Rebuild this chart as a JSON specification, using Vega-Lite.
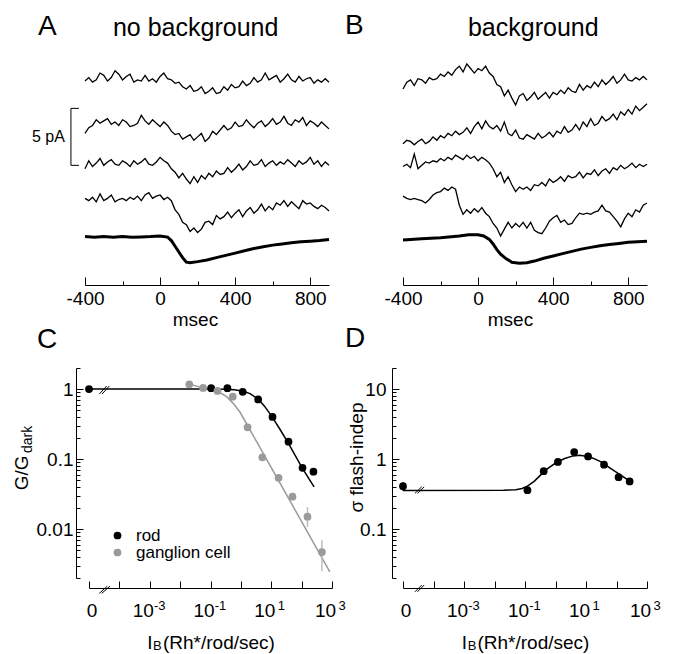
{
"$schema": "https://vega.github.io/schema/vega-lite/v6.json",
"padding": {"left": 12, "top": 11, "right": 0, "bottom": 0},
"config": {
 "view": {"stroke": null},
 "font": "Liberation Sans",
 "axis": {"grid": false, "domainColor": "black", "tickColor": "black", "labelColor": "black", "titleColor": "black", "labelFont": "Liberation Sans", "titleFont": "Liberation Sans", "labelFontSize": 19, "titleFontSize": 19, "titleFontWeight": "normal", "labelFlush": false, "labelOverlap": false, "labelBound": false, "domainWidth": 1, "tickWidth": 1},
 "text": {"font": "Liberation Sans", "color": "black"}
},
"datasets": {
 "tA": [
{"t":1,"ms":-400,"pA":17.9},{"t":1,"ms":-380,"pA":18.2},{"t":1,"ms":-360,"pA":17.8},{"t":1,"ms":-340,"pA":18.0},{"t":1,"ms":-320,"pA":18.6},{"t":1,"ms":-300,"pA":18.4},{"t":1,"ms":-280,"pA":17.9},{"t":1,"ms":-260,"pA":18.2},{"t":1,"ms":-240,"pA":18.8},{"t":1,"ms":-220,"pA":18.5},
{"t":1,"ms":-200,"pA":18.0},{"t":1,"ms":-180,"pA":18.3},{"t":1,"ms":-160,"pA":18.5},{"t":1,"ms":-140,"pA":17.8},{"t":1,"ms":-120,"pA":18.0},{"t":1,"ms":-100,"pA":17.9},{"t":1,"ms":-80,"pA":18.4},{"t":1,"ms":-60,"pA":17.9},{"t":1,"ms":-40,"pA":18.1},{"t":1,"ms":-20,"pA":17.8},
{"t":1,"ms":0,"pA":18.3},{"t":1,"ms":20,"pA":18.6},{"t":1,"ms":40,"pA":18.1},{"t":1,"ms":60,"pA":18.0},{"t":1,"ms":80,"pA":17.7},{"t":1,"ms":100,"pA":17.8},{"t":1,"ms":120,"pA":17.4},{"t":1,"ms":140,"pA":17.2},{"t":1,"ms":160,"pA":17.5},{"t":1,"ms":180,"pA":17.0},
{"t":1,"ms":200,"pA":17.1},{"t":1,"ms":220,"pA":17.4},{"t":1,"ms":240,"pA":16.8},{"t":1,"ms":260,"pA":17.0},{"t":1,"ms":280,"pA":17.3},{"t":1,"ms":300,"pA":16.8},{"t":1,"ms":320,"pA":16.9},{"t":1,"ms":340,"pA":17.4},{"t":1,"ms":360,"pA":17.1},{"t":1,"ms":380,"pA":17.6},
{"t":1,"ms":400,"pA":17.3},{"t":1,"ms":420,"pA":17.4},{"t":1,"ms":440,"pA":17.9},{"t":1,"ms":460,"pA":17.5},{"t":1,"ms":480,"pA":17.7},{"t":1,"ms":500,"pA":18.2},{"t":1,"ms":520,"pA":17.8},{"t":1,"ms":540,"pA":18.0},{"t":1,"ms":560,"pA":18.6},{"t":1,"ms":580,"pA":18.0},
{"t":1,"ms":600,"pA":18.2},{"t":1,"ms":620,"pA":18.4},{"t":1,"ms":640,"pA":17.8},{"t":1,"ms":660,"pA":18.1},{"t":1,"ms":680,"pA":18.5},{"t":1,"ms":700,"pA":18.0},{"t":1,"ms":720,"pA":17.8},{"t":1,"ms":740,"pA":18.3},{"t":1,"ms":760,"pA":17.9},{"t":1,"ms":780,"pA":18.1},
{"t":1,"ms":800,"pA":18.2},{"t":1,"ms":820,"pA":17.7},{"t":1,"ms":840,"pA":18.0},{"t":1,"ms":860,"pA":17.8},{"t":1,"ms":880,"pA":18.1},{"t":1,"ms":900,"pA":17.8},
{"t":2,"ms":-400,"pA":13.3},{"t":2,"ms":-380,"pA":13.8},{"t":2,"ms":-360,"pA":14.0},{"t":2,"ms":-340,"pA":14.5},{"t":2,"ms":-320,"pA":14.2},{"t":2,"ms":-300,"pA":14.4},{"t":2,"ms":-280,"pA":14.6},{"t":2,"ms":-260,"pA":14.1},{"t":2,"ms":-240,"pA":14.3},{"t":2,"ms":-220,"pA":14.0},
{"t":2,"ms":-200,"pA":14.5},{"t":2,"ms":-180,"pA":14.3},{"t":2,"ms":-160,"pA":13.9},{"t":2,"ms":-140,"pA":14.0},{"t":2,"ms":-120,"pA":14.2},{"t":2,"ms":-100,"pA":14.9},{"t":2,"ms":-80,"pA":14.4},{"t":2,"ms":-60,"pA":14.1},{"t":2,"ms":-40,"pA":14.5},{"t":2,"ms":-20,"pA":14.2},
{"t":2,"ms":0,"pA":13.9},{"t":2,"ms":20,"pA":14.3},{"t":2,"ms":40,"pA":14.0},{"t":2,"ms":60,"pA":13.5},{"t":2,"ms":80,"pA":13.2},{"t":2,"ms":100,"pA":13.3},{"t":2,"ms":120,"pA":12.8},{"t":2,"ms":140,"pA":13.0},{"t":2,"ms":160,"pA":13.2},{"t":2,"ms":180,"pA":12.7},
{"t":2,"ms":200,"pA":13.0},{"t":2,"ms":220,"pA":13.3},{"t":2,"ms":240,"pA":12.6},{"t":2,"ms":260,"pA":12.9},{"t":2,"ms":280,"pA":13.5},{"t":2,"ms":300,"pA":13.2},{"t":2,"ms":320,"pA":13.6},{"t":2,"ms":340,"pA":14.0},{"t":2,"ms":360,"pA":13.6},{"t":2,"ms":380,"pA":13.8},
{"t":2,"ms":400,"pA":14.3},{"t":2,"ms":420,"pA":13.9},{"t":2,"ms":440,"pA":14.0},{"t":2,"ms":460,"pA":14.5},{"t":2,"ms":480,"pA":14.1},{"t":2,"ms":500,"pA":13.8},{"t":2,"ms":520,"pA":14.2},{"t":2,"ms":540,"pA":14.4},{"t":2,"ms":560,"pA":13.9},{"t":2,"ms":580,"pA":14.2},
{"t":2,"ms":600,"pA":14.6},{"t":2,"ms":620,"pA":14.1},{"t":2,"ms":640,"pA":14.3},{"t":2,"ms":660,"pA":14.8},{"t":2,"ms":680,"pA":14.2},{"t":2,"ms":700,"pA":14.0},{"t":2,"ms":720,"pA":14.5},{"t":2,"ms":740,"pA":14.3},{"t":2,"ms":760,"pA":14.7},{"t":2,"ms":780,"pA":14.0},
{"t":2,"ms":800,"pA":14.4},{"t":2,"ms":820,"pA":14.2},{"t":2,"ms":840,"pA":13.9},{"t":2,"ms":860,"pA":14.3},{"t":2,"ms":880,"pA":14.0},{"t":2,"ms":900,"pA":13.7},
{"t":3,"ms":-400,"pA":10.2},{"t":3,"ms":-380,"pA":10.9},{"t":3,"ms":-360,"pA":10.4},{"t":3,"ms":-340,"pA":10.7},{"t":3,"ms":-320,"pA":11.1},{"t":3,"ms":-300,"pA":10.5},{"t":3,"ms":-280,"pA":10.8},{"t":3,"ms":-260,"pA":11.0},{"t":3,"ms":-240,"pA":10.6},{"t":3,"ms":-220,"pA":10.5},
{"t":3,"ms":-200,"pA":10.9},{"t":3,"ms":-180,"pA":10.7},{"t":3,"ms":-160,"pA":10.4},{"t":3,"ms":-140,"pA":10.9},{"t":3,"ms":-120,"pA":10.6},{"t":3,"ms":-100,"pA":10.8},{"t":3,"ms":-80,"pA":11.1},{"t":3,"ms":-60,"pA":10.6},{"t":3,"ms":-40,"pA":10.5},{"t":3,"ms":-20,"pA":10.8},
{"t":3,"ms":0,"pA":11.2},{"t":3,"ms":20,"pA":10.9},{"t":3,"ms":40,"pA":10.7},{"t":3,"ms":60,"pA":10.2},{"t":3,"ms":80,"pA":9.9},{"t":3,"ms":100,"pA":9.4},{"t":3,"ms":120,"pA":9.8},{"t":3,"ms":140,"pA":9.3},{"t":3,"ms":160,"pA":8.9},{"t":3,"ms":180,"pA":9.5},
{"t":3,"ms":200,"pA":9.0},{"t":3,"ms":220,"pA":9.6},{"t":3,"ms":240,"pA":9.3},{"t":3,"ms":260,"pA":9.8},{"t":3,"ms":280,"pA":9.5},{"t":3,"ms":300,"pA":10.0},{"t":3,"ms":320,"pA":9.7},{"t":3,"ms":340,"pA":9.8},{"t":3,"ms":360,"pA":10.3},{"t":3,"ms":380,"pA":9.9},
{"t":3,"ms":400,"pA":10.2},{"t":3,"ms":420,"pA":10.6},{"t":3,"ms":440,"pA":10.1},{"t":3,"ms":460,"pA":10.4},{"t":3,"ms":480,"pA":10.9},{"t":3,"ms":500,"pA":10.5},{"t":3,"ms":520,"pA":10.6},{"t":3,"ms":540,"pA":11.0},{"t":3,"ms":560,"pA":10.4},{"t":3,"ms":580,"pA":10.7},
{"t":3,"ms":600,"pA":10.9},{"t":3,"ms":620,"pA":10.5},{"t":3,"ms":640,"pA":10.8},{"t":3,"ms":660,"pA":10.6},{"t":3,"ms":680,"pA":11.0},{"t":3,"ms":700,"pA":10.7},{"t":3,"ms":720,"pA":10.4},{"t":3,"ms":740,"pA":10.9},{"t":3,"ms":760,"pA":10.6},{"t":3,"ms":780,"pA":10.8},
{"t":3,"ms":800,"pA":11.2},{"t":3,"ms":820,"pA":10.6},{"t":3,"ms":840,"pA":10.9},{"t":3,"ms":860,"pA":10.4},{"t":3,"ms":880,"pA":10.8},{"t":3,"ms":900,"pA":10.5},
{"t":4,"ms":-400,"pA":7.6},{"t":4,"ms":-380,"pA":7.4},{"t":4,"ms":-360,"pA":7.7},{"t":4,"ms":-340,"pA":7.3},{"t":4,"ms":-320,"pA":8.0},{"t":4,"ms":-300,"pA":7.4},{"t":4,"ms":-280,"pA":7.6},{"t":4,"ms":-260,"pA":7.9},{"t":4,"ms":-240,"pA":7.3},{"t":4,"ms":-220,"pA":7.5},
{"t":4,"ms":-200,"pA":7.6},{"t":4,"ms":-180,"pA":7.4},{"t":4,"ms":-160,"pA":7.7},{"t":4,"ms":-140,"pA":7.5},{"t":4,"ms":-120,"pA":7.8},{"t":4,"ms":-100,"pA":7.4},{"t":4,"ms":-80,"pA":7.9},{"t":4,"ms":-60,"pA":8.1},{"t":4,"ms":-40,"pA":7.6},{"t":4,"ms":-20,"pA":7.8},
{"t":4,"ms":0,"pA":7.9},{"t":4,"ms":20,"pA":7.5},{"t":4,"ms":40,"pA":7.7},{"t":4,"ms":60,"pA":7.4},{"t":4,"ms":80,"pA":6.6},{"t":4,"ms":100,"pA":6.2},{"t":4,"ms":120,"pA":5.5},{"t":4,"ms":140,"pA":5.3},{"t":4,"ms":160,"pA":4.7},{"t":4,"ms":180,"pA":5.0},
{"t":4,"ms":200,"pA":4.6},{"t":4,"ms":220,"pA":4.9},{"t":4,"ms":240,"pA":5.5},{"t":4,"ms":260,"pA":5.6},{"t":4,"ms":280,"pA":5.3},{"t":4,"ms":300,"pA":6.1},{"t":4,"ms":320,"pA":5.8},{"t":4,"ms":340,"pA":6.0},{"t":4,"ms":360,"pA":6.4},{"t":4,"ms":380,"pA":5.9},
{"t":4,"ms":400,"pA":6.3},{"t":4,"ms":420,"pA":6.6},{"t":4,"ms":440,"pA":6.0},{"t":4,"ms":460,"pA":6.5},{"t":4,"ms":480,"pA":6.8},{"t":4,"ms":500,"pA":6.3},{"t":4,"ms":520,"pA":6.6},{"t":4,"ms":540,"pA":7.1},{"t":4,"ms":560,"pA":6.5},{"t":4,"ms":580,"pA":6.9},
{"t":4,"ms":600,"pA":6.6},{"t":4,"ms":620,"pA":7.2},{"t":4,"ms":640,"pA":7.0},{"t":4,"ms":660,"pA":7.4},{"t":4,"ms":680,"pA":6.9},{"t":4,"ms":700,"pA":7.3},{"t":4,"ms":720,"pA":7.0},{"t":4,"ms":740,"pA":6.7},{"t":4,"ms":760,"pA":7.4},{"t":4,"ms":780,"pA":7.1},
{"t":4,"ms":800,"pA":7.2},{"t":4,"ms":820,"pA":6.9},{"t":4,"ms":840,"pA":6.7},{"t":4,"ms":860,"pA":7.0},{"t":4,"ms":880,"pA":6.8},{"t":4,"ms":900,"pA":6.5}
 ],
 "mA": [
{"ms":-400,"pA":4.25},{"ms":-350,"pA":4.2},{"ms":-300,"pA":4.25},{"ms":-250,"pA":4.2},{"ms":-200,"pA":4.25},{"ms":-150,"pA":4.2},{"ms":-100,"pA":4.22},{"ms":-50,"pA":4.25},{"ms":0,"pA":4.3},{"ms":40,"pA":4.2},{"ms":60,"pA":3.9},{"ms":80,"pA":3.4},{"ms":100,"pA":2.9},{"ms":120,"pA":2.4},{"ms":140,"pA":2.0},{"ms":160,"pA":1.95},{"ms":200,"pA":2.05},{"ms":250,"pA":2.2},{"ms":300,"pA":2.4},{"ms":350,"pA":2.6},{"ms":400,"pA":2.8},{"ms":450,"pA":3.0},{"ms":500,"pA":3.2},{"ms":550,"pA":3.35},{"ms":600,"pA":3.5},{"ms":650,"pA":3.6},{"ms":700,"pA":3.7},{"ms":750,"pA":3.8},{"ms":800,"pA":3.85},{"ms":850,"pA":3.9},{"ms":900,"pA":4.0}
 ],
 "tB": [
{"t":1,"ms":-400,"pA":17.2},{"t":1,"ms":-380,"pA":17.8},{"t":1,"ms":-360,"pA":18.0},{"t":1,"ms":-340,"pA":17.5},{"t":1,"ms":-320,"pA":18.1},{"t":1,"ms":-300,"pA":18.0},{"t":1,"ms":-280,"pA":17.7},{"t":1,"ms":-260,"pA":18.2},{"t":1,"ms":-240,"pA":18.0},{"t":1,"ms":-220,"pA":18.1},
{"t":1,"ms":-200,"pA":18.5},{"t":1,"ms":-180,"pA":18.3},{"t":1,"ms":-160,"pA":18.7},{"t":1,"ms":-140,"pA":18.4},{"t":1,"ms":-120,"pA":18.9},{"t":1,"ms":-100,"pA":19.2},{"t":1,"ms":-80,"pA":18.7},{"t":1,"ms":-60,"pA":19.4},{"t":1,"ms":-40,"pA":19.0},{"t":1,"ms":-20,"pA":18.6},
{"t":1,"ms":0,"pA":19.0},{"t":1,"ms":20,"pA":18.8},{"t":1,"ms":40,"pA":19.2},{"t":1,"ms":60,"pA":18.6},{"t":1,"ms":80,"pA":18.3},{"t":1,"ms":100,"pA":17.6},{"t":1,"ms":120,"pA":17.4},{"t":1,"ms":140,"pA":16.6},{"t":1,"ms":160,"pA":17.1},{"t":1,"ms":180,"pA":16.4},
{"t":1,"ms":200,"pA":15.8},{"t":1,"ms":220,"pA":16.6},{"t":1,"ms":240,"pA":16.8},{"t":1,"ms":260,"pA":16.2},{"t":1,"ms":280,"pA":16.5},{"t":1,"ms":300,"pA":16.9},{"t":1,"ms":320,"pA":16.3},{"t":1,"ms":340,"pA":16.6},{"t":1,"ms":360,"pA":16.9},{"t":1,"ms":380,"pA":16.4},
{"t":1,"ms":400,"pA":16.9},{"t":1,"ms":420,"pA":16.7},{"t":1,"ms":440,"pA":17.1},{"t":1,"ms":460,"pA":16.8},{"t":1,"ms":480,"pA":17.3},{"t":1,"ms":500,"pA":17.0},{"t":1,"ms":520,"pA":16.9},{"t":1,"ms":540,"pA":17.6},{"t":1,"ms":560,"pA":17.1},{"t":1,"ms":580,"pA":17.5},
{"t":1,"ms":600,"pA":17.3},{"t":1,"ms":620,"pA":17.8},{"t":1,"ms":640,"pA":17.4},{"t":1,"ms":660,"pA":18.0},{"t":1,"ms":680,"pA":17.6},{"t":1,"ms":700,"pA":17.9},{"t":1,"ms":720,"pA":18.3},{"t":1,"ms":740,"pA":17.7},{"t":1,"ms":760,"pA":18.0},{"t":1,"ms":780,"pA":18.5},
{"t":1,"ms":800,"pA":18.0},{"t":1,"ms":820,"pA":17.9},{"t":1,"ms":840,"pA":18.2},{"t":1,"ms":860,"pA":18.0},{"t":1,"ms":880,"pA":18.3},{"t":1,"ms":900,"pA":18.0},
{"t":2,"ms":-400,"pA":12.4},{"t":2,"ms":-380,"pA":12.7},{"t":2,"ms":-360,"pA":12.6},{"t":2,"ms":-340,"pA":12.3},{"t":2,"ms":-320,"pA":12.6},{"t":2,"ms":-300,"pA":12.8},{"t":2,"ms":-280,"pA":12.4},{"t":2,"ms":-260,"pA":12.6},{"t":2,"ms":-240,"pA":13.0},{"t":2,"ms":-220,"pA":12.7},
{"t":2,"ms":-200,"pA":13.1},{"t":2,"ms":-180,"pA":12.9},{"t":2,"ms":-160,"pA":13.3},{"t":2,"ms":-140,"pA":13.1},{"t":2,"ms":-120,"pA":13.5},{"t":2,"ms":-100,"pA":13.2},{"t":2,"ms":-80,"pA":13.4},{"t":2,"ms":-60,"pA":13.8},{"t":2,"ms":-40,"pA":13.3},{"t":2,"ms":-20,"pA":13.9},
{"t":2,"ms":0,"pA":14.3},{"t":2,"ms":20,"pA":13.7},{"t":2,"ms":40,"pA":14.4},{"t":2,"ms":60,"pA":13.9},{"t":2,"ms":80,"pA":13.7},{"t":2,"ms":100,"pA":14.0},{"t":2,"ms":120,"pA":13.5},{"t":2,"ms":140,"pA":14.3},{"t":2,"ms":160,"pA":13.3},{"t":2,"ms":180,"pA":13.1},
{"t":2,"ms":200,"pA":13.6},{"t":2,"ms":220,"pA":12.9},{"t":2,"ms":240,"pA":12.8},{"t":2,"ms":260,"pA":13.2},{"t":2,"ms":280,"pA":13.0},{"t":2,"ms":300,"pA":12.8},{"t":2,"ms":320,"pA":13.3},{"t":2,"ms":340,"pA":12.9},{"t":2,"ms":360,"pA":13.1},{"t":2,"ms":380,"pA":13.4},
{"t":2,"ms":400,"pA":13.0},{"t":2,"ms":420,"pA":13.5},{"t":2,"ms":440,"pA":13.3},{"t":2,"ms":460,"pA":13.9},{"t":2,"ms":480,"pA":13.4},{"t":2,"ms":500,"pA":13.6},{"t":2,"ms":520,"pA":14.1},{"t":2,"ms":540,"pA":13.6},{"t":2,"ms":560,"pA":14.3},{"t":2,"ms":580,"pA":13.9},
{"t":2,"ms":600,"pA":14.6},{"t":2,"ms":620,"pA":14.0},{"t":2,"ms":640,"pA":14.2},{"t":2,"ms":660,"pA":14.8},{"t":2,"ms":680,"pA":14.4},{"t":2,"ms":700,"pA":14.6},{"t":2,"ms":720,"pA":15.0},{"t":2,"ms":740,"pA":14.5},{"t":2,"ms":760,"pA":15.2},{"t":2,"ms":780,"pA":14.9},
{"t":2,"ms":800,"pA":15.4},{"t":2,"ms":820,"pA":15.0},{"t":2,"ms":840,"pA":15.7},{"t":2,"ms":860,"pA":15.3},{"t":2,"ms":880,"pA":15.6},{"t":2,"ms":900,"pA":15.9},
{"t":3,"ms":-400,"pA":10.4},{"t":3,"ms":-380,"pA":10.6},{"t":3,"ms":-360,"pA":10.3},{"t":3,"ms":-340,"pA":11.5},{"t":3,"ms":-320,"pA":10.2},{"t":3,"ms":-300,"pA":10.5},{"t":3,"ms":-280,"pA":10.8},{"t":3,"ms":-260,"pA":10.7},{"t":3,"ms":-240,"pA":10.9},{"t":3,"ms":-220,"pA":10.8},
{"t":3,"ms":-200,"pA":11.1},{"t":3,"ms":-180,"pA":10.9},{"t":3,"ms":-160,"pA":11.2},{"t":3,"ms":-140,"pA":11.0},{"t":3,"ms":-120,"pA":11.4},{"t":3,"ms":-100,"pA":11.2},{"t":3,"ms":-80,"pA":11.0},{"t":3,"ms":-60,"pA":11.4},{"t":3,"ms":-40,"pA":11.1},{"t":3,"ms":-20,"pA":11.3},
{"t":3,"ms":0,"pA":10.9},{"t":3,"ms":20,"pA":11.2},{"t":3,"ms":40,"pA":11.0},{"t":3,"ms":60,"pA":10.7},{"t":3,"ms":80,"pA":10.2},{"t":3,"ms":100,"pA":9.5},{"t":3,"ms":120,"pA":9.9},{"t":3,"ms":140,"pA":9.0},{"t":3,"ms":160,"pA":9.5},{"t":3,"ms":180,"pA":8.8},
{"t":3,"ms":200,"pA":8.2},{"t":3,"ms":220,"pA":8.6},{"t":3,"ms":240,"pA":8.4},{"t":3,"ms":260,"pA":8.6},{"t":3,"ms":280,"pA":8.3},{"t":3,"ms":300,"pA":8.8},{"t":3,"ms":320,"pA":8.7},{"t":3,"ms":340,"pA":9.0},{"t":3,"ms":360,"pA":8.7},{"t":3,"ms":380,"pA":9.3},
{"t":3,"ms":400,"pA":9.0},{"t":3,"ms":420,"pA":9.2},{"t":3,"ms":440,"pA":9.5},{"t":3,"ms":460,"pA":9.1},{"t":3,"ms":480,"pA":9.6},{"t":3,"ms":500,"pA":9.4},{"t":3,"ms":520,"pA":9.5},{"t":3,"ms":540,"pA":9.9},{"t":3,"ms":560,"pA":9.4},{"t":3,"ms":580,"pA":9.8},
{"t":3,"ms":600,"pA":9.7},{"t":3,"ms":620,"pA":10.1},{"t":3,"ms":640,"pA":9.6},{"t":3,"ms":660,"pA":10.0},{"t":3,"ms":680,"pA":10.2},{"t":3,"ms":700,"pA":9.8},{"t":3,"ms":720,"pA":10.3},{"t":3,"ms":740,"pA":10.1},{"t":3,"ms":760,"pA":10.5},{"t":3,"ms":780,"pA":10.2},
{"t":3,"ms":800,"pA":10.4},{"t":3,"ms":820,"pA":10.7},{"t":3,"ms":840,"pA":10.3},{"t":3,"ms":860,"pA":10.6},{"t":3,"ms":880,"pA":10.4},{"t":3,"ms":900,"pA":10.6},
{"t":4,"ms":-400,"pA":7.8},{"t":4,"ms":-380,"pA":7.6},{"t":4,"ms":-360,"pA":7.5},{"t":4,"ms":-340,"pA":7.6},{"t":4,"ms":-320,"pA":7.5},{"t":4,"ms":-300,"pA":7.4},{"t":4,"ms":-280,"pA":7.2},{"t":4,"ms":-260,"pA":7.5},{"t":4,"ms":-240,"pA":7.9},{"t":4,"ms":-220,"pA":8.1},
{"t":4,"ms":-200,"pA":8.2},{"t":4,"ms":-180,"pA":8.5},{"t":4,"ms":-160,"pA":8.3},{"t":4,"ms":-140,"pA":8.6},{"t":4,"ms":-120,"pA":8.4},{"t":4,"ms":-100,"pA":7.0},{"t":4,"ms":-80,"pA":6.2},{"t":4,"ms":-60,"pA":6.6},{"t":4,"ms":-40,"pA":6.3},{"t":4,"ms":-20,"pA":6.7},
{"t":4,"ms":0,"pA":6.4},{"t":4,"ms":20,"pA":6.8},{"t":4,"ms":40,"pA":6.3},{"t":4,"ms":60,"pA":6.0},{"t":4,"ms":80,"pA":5.4},{"t":4,"ms":100,"pA":5.0},{"t":4,"ms":120,"pA":4.3},{"t":4,"ms":140,"pA":4.9},{"t":4,"ms":160,"pA":5.5},{"t":4,"ms":180,"pA":5.0},
{"t":4,"ms":200,"pA":5.4},{"t":4,"ms":220,"pA":5.1},{"t":4,"ms":240,"pA":5.5},{"t":4,"ms":260,"pA":5.0},{"t":4,"ms":280,"pA":5.5},{"t":4,"ms":300,"pA":4.8},{"t":4,"ms":320,"pA":4.6},{"t":4,"ms":340,"pA":4.5},{"t":4,"ms":360,"pA":5.0},{"t":4,"ms":380,"pA":5.6},
{"t":4,"ms":400,"pA":5.9},{"t":4,"ms":420,"pA":6.1},{"t":4,"ms":440,"pA":5.5},{"t":4,"ms":460,"pA":5.7},{"t":4,"ms":480,"pA":5.3},{"t":4,"ms":500,"pA":5.4},{"t":4,"ms":520,"pA":5.9},{"t":4,"ms":540,"pA":6.3},{"t":4,"ms":560,"pA":6.2},{"t":4,"ms":580,"pA":6.3},
{"t":4,"ms":600,"pA":6.2},{"t":4,"ms":620,"pA":6.4},{"t":4,"ms":640,"pA":6.5},{"t":4,"ms":660,"pA":7.0},{"t":4,"ms":680,"pA":6.5},{"t":4,"ms":700,"pA":6.4},{"t":4,"ms":720,"pA":6.0},{"t":4,"ms":740,"pA":5.6},{"t":4,"ms":760,"pA":5.1},{"t":4,"ms":780,"pA":5.8},
{"t":4,"ms":800,"pA":6.3},{"t":4,"ms":820,"pA":6.0},{"t":4,"ms":840,"pA":6.6},{"t":4,"ms":860,"pA":6.4},{"t":4,"ms":880,"pA":7.0},{"t":4,"ms":900,"pA":7.2}
 ],
 "mB": [
{"ms":-400,"pA":3.95},{"ms":-300,"pA":4.05},{"ms":-200,"pA":4.15},{"ms":-100,"pA":4.3},{"ms":-50,"pA":4.4},{"ms":0,"pA":4.4},{"ms":30,"pA":4.3},{"ms":60,"pA":4.0},{"ms":80,"pA":3.6},{"ms":100,"pA":3.1},{"ms":120,"pA":2.7},{"ms":150,"pA":2.3},{"ms":180,"pA":2.0},{"ms":220,"pA":1.9},{"ms":260,"pA":1.95},{"ms":300,"pA":2.1},{"ms":350,"pA":2.35},{"ms":400,"pA":2.55},{"ms":450,"pA":2.75},{"ms":500,"pA":2.95},{"ms":550,"pA":3.15},{"ms":600,"pA":3.3},{"ms":650,"pA":3.45},{"ms":700,"pA":3.55},{"ms":750,"pA":3.65},{"ms":800,"pA":3.75},{"ms":850,"pA":3.8},{"ms":900,"pA":3.85}
 ],
 "cPts": [
{"cell":"rod","I":0.00001,"G":1.0},{"cell":"rod","I":0.105,"G":1.03},{"cell":"rod","I":0.36,"G":1.03},{"cell":"rod","I":1.15,"G":0.915},{"cell":"rod","I":3.7,"G":0.71},{"cell":"rod","I":11,"G":0.40},{"cell":"rod","I":37,"G":0.177},{"cell":"rod","I":107,"G":0.075},{"cell":"rod","I":245,"G":0.066},
{"cell":"ganglion cell","I":0.02,"G":1.17},{"cell":"ganglion cell","I":0.057,"G":1.04},{"cell":"ganglion cell","I":0.17,"G":0.94},{"cell":"ganglion cell","I":0.54,"G":0.78},{"cell":"ganglion cell","I":1.66,"G":0.284},{"cell":"ganglion cell","I":5.1,"G":0.106},{"cell":"ganglion cell","I":17.4,"G":0.054},{"cell":"ganglion cell","I":50,"G":0.029},{"cell":"ganglion cell","I":156,"G":0.015,"lo":0.0107,"hi":0.0206},{"cell":"ganglion cell","I":465,"G":0.0047,"lo":0.0025,"hi":0.0069}
 ],
 "cFit": [
{"cell":"rod","I":0.00001,"G":1.0},{"cell":"rod","I":0.09,"G":1.0},{"cell":"rod","I":0.3,"G":0.995},{"cell":"rod","I":0.6,"G":0.98},{"cell":"rod","I":1.12,"G":0.94},{"cell":"rod","I":2,"G":0.86},{"cell":"rod","I":3.7,"G":0.72},{"cell":"rod","I":6,"G":0.57},{"cell":"rod","I":10.7,"G":0.40},{"cell":"rod","I":20,"G":0.26},{"cell":"rod","I":36,"G":0.17},{"cell":"rod","I":60,"G":0.115},{"cell":"rod","I":105,"G":0.074},{"cell":"rod","I":257,"G":0.04},
{"cell":"ganglion cell","I":0.02,"G":1.17},{"cell":"ganglion cell","I":0.057,"G":1.04},{"cell":"ganglion cell","I":0.16,"G":0.945},{"cell":"ganglion cell","I":0.34,"G":0.78},{"cell":"ganglion cell","I":0.55,"G":0.63},{"cell":"ganglion cell","I":0.93,"G":0.47},{"cell":"ganglion cell","I":10,"G":0.0757},{"cell":"ganglion cell","I":100,"G":0.0128},{"cell":"ganglion cell","I":850,"G":0.00245}
 ],
 "dPts": [
{"I":0.00001,"s":0.41,"lo":0.35,"hi":0.47},{"I":0.12,"s":0.36,"lo":0.32,"hi":0.40},{"I":0.41,"s":0.67,"lo":0.62,"hi":0.72},{"I":1.2,"s":0.91},{"I":4.1,"s":1.26},{"I":11.7,"s":1.09},{"I":39,"s":0.83},{"I":117,"s":0.55,"lo":0.50,"hi":0.61},{"I":270,"s":0.48}
 ],
 "dFit": [
{"I":0.00001,"s":0.356},{"I":0.02,"s":0.358},{"I":0.05,"s":0.365},{"I":0.08,"s":0.38},{"I":0.12,"s":0.41},{"I":0.2,"s":0.48},{"I":0.31,"s":0.58},{"I":0.55,"s":0.73},{"I":1.1,"s":0.9},{"I":2,"s":1.02},{"I":3.8,"s":1.11},{"I":6.3,"s":1.13},{"I":10,"s":1.1},{"I":17,"s":1.03},{"I":30,"s":0.92},{"I":48,"s":0.80},{"I":80,"s":0.69},{"I":130,"s":0.60},{"I":200,"s":0.53},{"I":275,"s":0.48}
 ]
},
"columns": 2,
"spacing": {"row": 83, "column": 71},
"bounds": "flush",
"concat": [
  {"width": 244, "height": 245,
   "layer": [
    {"data": {"name": "tA"}, "mark": {"type": "line", "color": "black", "strokeWidth": 1.3},
     "encoding": {
      "x": {"field": "ms", "type": "quantitative", "scale": {"domain": [-400, 900], "nice": false, "zero": false},
        "axis": {"title": "msec", "values": [-400,-200,0,200,400,600,800], "labelExpr": "datum.value % 400 === 0 ? '' + datum.value : ''", "tickSize": {"condition": {"test": "datum.value % 400 === 0", "value": -8}, "value": -4}, "labelPadding": 12.5, "titleX": 110, "titleY": 40, "titleBaseline": "alphabetic", "titleAlign": "center"}},
      "y": {"field": "pA", "type": "quantitative", "scale": {"domain": [0, 21.5], "nice": false, "zero": false}, "axis": null},
      "detail": {"field": "t"}}},
    {"data": {"name": "mA"}, "mark": {"type": "line", "color": "black", "strokeWidth": 3},
     "encoding": {"x": {"field": "ms", "type": "quantitative"}, "y": {"field": "pA", "type": "quantitative"}}},
    {"data": {"values": [{}]}, "mark": {"type": "rule", "color": "black", "strokeWidth": 1},
     "encoding": {"x": {"datum": -475}, "y": {"datum": 10.5}, "y2": {"datum": 15.5}}},
    {"data": {"values": [{}]}, "mark": {"type": "rule", "color": "black", "strokeWidth": 1},
     "encoding": {"x": {"datum": -475}, "x2": {"datum": -432}, "y": {"datum": 15.5}}},
    {"data": {"values": [{}]}, "mark": {"type": "rule", "color": "black", "strokeWidth": 1},
     "encoding": {"x": {"datum": -475}, "x2": {"datum": -432}, "y": {"datum": 10.5}}},
    {"data": {"values": [{}]}, "mark": {"type": "text", "text": "5 pA", "fontSize": 16, "align": "right", "baseline": "middle"},
     "encoding": {"x": {"datum": -507}, "y": {"datum": 12.98}}},
    {"data": {"values": [{}]}, "mark": {"type": "text", "text": "A", "fontSize": 28, "align": "left", "baseline": "alphabetic"},
     "encoding": {"x": {"datum": -650}, "y": {"datum": 21.93}}},
    {"data": {"values": [{}]}, "mark": {"type": "text", "text": "no background", "fontSize": 25, "align": "left", "baseline": "alphabetic"},
     "encoding": {"x": {"datum": -251}, "y": {"datum": 21.84}}}
   ]},
  {"width": 244, "height": 245,
   "layer": [
    {"data": {"name": "tB"}, "mark": {"type": "line", "color": "black", "strokeWidth": 1.3},
     "encoding": {
      "x": {"field": "ms", "type": "quantitative", "scale": {"domain": [-400, 900], "nice": false, "zero": false},
        "axis": {"title": "msec", "values": [-400,-200,0,200,400,600,800], "labelExpr": "datum.value % 400 === 0 ? '' + datum.value : ''", "tickSize": {"condition": {"test": "datum.value % 400 === 0", "value": -8}, "value": -4}, "labelPadding": 12.5, "titleX": 107, "titleY": 40, "titleBaseline": "alphabetic", "titleAlign": "center"}},
      "y": {"field": "pA", "type": "quantitative", "scale": {"domain": [0, 21.5], "nice": false, "zero": false}, "axis": null},
      "detail": {"field": "t"}}},
    {"data": {"name": "mB"}, "mark": {"type": "line", "color": "black", "strokeWidth": 3},
     "encoding": {"x": {"field": "ms", "type": "quantitative"}, "y": {"field": "pA", "type": "quantitative"}}},
    {"data": {"values": [{}]}, "mark": {"type": "text", "text": "B", "fontSize": 28, "align": "left", "baseline": "alphabetic"},
     "encoding": {"x": {"datum": -709}, "y": {"datum": 22.06}}},
    {"data": {"values": [{}]}, "mark": {"type": "text", "text": "background", "fontSize": 25, "align": "left", "baseline": "alphabetic"},
     "encoding": {"x": {"datum": -54}, "y": {"datum": 21.84}}}
   ]},
  {"width": 247, "height": 210,
   "resolve": {"axis": {"x": "independent", "y": "independent"}},
   "layer": [
    {"layer": [
     {"data": {"name": "cFit"}, "transform": [{"filter": "datum.cell == 'rod'"}], "mark": {"type": "line", "color": "black", "strokeWidth": 1.5},
      "encoding": {
       "x": {"field": "I", "type": "quantitative", "scale": {"type": "log", "domain": [0.00001, 1000], "range": [4, 247], "nice": false},
         "axis": {"orient": "bottom", "offset": 10, "values": [0.00001,0.0001,0.001,0.01,0.1,1,10,100,1000], "labelExpr": "datum.value < 2e-5 ? '0' : (abs(round(log(datum.value)/LN10)) % 2 == 1 ? '10' : '')", "labelOffset": {"condition": {"test": "datum.value < 2e-5", "value": 2.5}, "value": -7}, "tickSize": -7, "labelPadding": 20.5, "title": "I\u00a0\u00a0(Rh*/rod/sec)", "titleY": 60, "titleBaseline": "alphabetic"}},
       "y": {"field": "G", "type": "quantitative", "scale": {"type": "log", "domain": [0.002, 2], "nice": false},
         "axis": {"orient": "left", "offset": 9, "values": [0.002,0.003,0.004,0.005,0.006,0.007,0.008,0.009,0.01,0.02,0.03,0.04,0.05,0.06,0.07,0.08,0.09,0.1,0.2,0.3,0.4,0.5,0.6,0.7,0.8,0.9,1,2], "labelExpr": "datum.value == 1 ? '1' : datum.value == 0.1 ? '0.1' : datum.value == 0.01 ? '0.01' : ''", "tickSize": {"condition": {"test": "datum.value == 1 || datum.value == 0.1 || datum.value == 0.01", "value": -7}, "value": -4}, "labelPadding": 10, "title": "G/G", "titleX": -49, "titleY": 87, "titleAngle": 270, "titleAlign": "right", "titleBaseline": "alphabetic"}}}},
     {"data": {"name": "cFit"}, "transform": [{"filter": "datum.cell == 'ganglion cell'"}], "mark": {"type": "line", "color": "#9a9a9a", "strokeWidth": 1.5},
      "encoding": {"x": {"field": "I", "type": "quantitative"}, "y": {"field": "G", "type": "quantitative"}}},
     {"data": {"name": "cPts"}, "transform": [{"filter": "isValid(datum.lo)"}], "mark": {"type": "rule", "color": "#bdbdbd", "strokeWidth": 1.5},
      "encoding": {"x": {"field": "I", "type": "quantitative"}, "y": {"field": "lo", "type": "quantitative"}, "y2": {"field": "hi"}}},
     {"data": {"name": "cPts"}, "mark": {"type": "point", "filled": true, "size": 60, "opacity": 1},
      "encoding": {"x": {"field": "I", "type": "quantitative"}, "y": {"field": "G", "type": "quantitative"},
       "color": {"field": "cell", "type": "nominal", "scale": {"domain": ["rod", "ganglion cell"], "range": ["black", "#9a9a9a"]},
         "legend": {"orient": "none", "legendX": 24, "legendY": 487, "title": null, "labelFontSize": 17, "labelFont": "Liberation Sans", "labelColor": "black", "symbolType": "circle", "symbolSize": 60, "symbolStrokeWidth": 0, "labelOffset": 10, "rowPadding": -3, "padding": 0}}}},
     {"data": {"values": [{}]}, "mark": {"type": "rule", "color": "black", "strokeWidth": 1}, "encoding": {"x": {"datum": 2.18e-5}, "x2": {"datum": 4.0e-5}, "y": {"datum": 0.001205}, "y2": {"datum": 0.00153}}},
     {"data": {"values": [{}]}, "mark": {"type": "rule", "color": "black", "strokeWidth": 1}, "encoding": {"x": {"datum": 2.62e-5}, "x2": {"datum": 4.91e-5}, "y": {"datum": 0.001205}, "y2": {"datum": 0.00153}}},
     {"data": {"values": [{}]}, "mark": {"type": "rule", "color": "black", "strokeWidth": 1}, "encoding": {"x": {"datum": 2.18e-5}, "x2": {"datum": 3.82e-5}, "y": {"datum": 0.848}, "y2": {"datum": 1.104}}},
     {"data": {"values": [{}]}, "mark": {"type": "rule", "color": "black", "strokeWidth": 1}, "encoding": {"x": {"datum": 2.68e-5}, "x2": {"datum": 4.66e-5}, "y": {"datum": 0.848}, "y2": {"datum": 1.104}}},
     {"data": {"values": [{}]}, "mark": {"type": "text", "text": "dark", "fontSize": 14, "angle": 270, "align": "left", "baseline": "alphabetic"}, "encoding": {"x": {"datum": 1.3e-7}, "y": {"datum": 0.122}}},
     {"data": {"values": [{}]}, "mark": {"type": "text", "text": "B", "fontSize": 13, "align": "left", "baseline": "alphabetic"}, "encoding": {"x": {"datum": 0.00128}, "y": {"datum": 0.000187}}},
     {"data": {"values": [{}]}, "mark": {"type": "text", "text": "C", "fontSize": 28, "align": "left", "baseline": "alphabetic"}, "encoding": {"x": {"datum": 1.94e-7}, "y": {"datum": 3.85}}}
    ]},
    {"data": {"name": "cPts"}, "mark": {"type": "point", "opacity": 0},
     "encoding": {
      "x": {"field": "I", "type": "quantitative", "axis": {"orient": "bottom", "offset": 10, "values": [0.001, 0.1, 10, 1000], "labelExpr": "'' + round(log(datum.value)/LN10)", "domain": false, "ticks": false, "tickSize": 0, "labelFontSize": 13, "labelOffset": 9.5, "labelPadding": 11, "title": null}},
      "y": {"field": "G", "type": "quantitative", "axis": null}}}
   ]},
  {"width": 244, "height": 210,
   "resolve": {"axis": {"x": "independent", "y": "independent"}},
   "layer": [
    {"layer": [
     {"data": {"name": "dFit"}, "mark": {"type": "line", "color": "black", "strokeWidth": 1.5},
      "encoding": {
       "x": {"field": "I", "type": "quantitative", "scale": {"type": "log", "domain": [0.00001, 1000], "nice": false},
         "axis": {"orient": "bottom", "offset": 10, "values": [0.00001,0.0001,0.001,0.01,0.1,1,10,100,1000], "labelExpr": "datum.value < 2e-5 ? '0' : (abs(round(log(datum.value)/LN10)) % 2 == 1 ? '10' : '')", "labelOffset": {"condition": {"test": "datum.value < 2e-5", "value": 2.5}, "value": -7}, "tickSize": -7, "labelPadding": 20.5, "title": "I\u00a0\u00a0(Rh*/rod/sec)", "titleY": 60, "titleBaseline": "alphabetic"}},
       "y": {"field": "s", "type": "quantitative", "scale": {"type": "log", "domain": [0.02, 20], "nice": false},
         "axis": {"orient": "left", "offset": 11, "values": [0.02,0.03,0.04,0.05,0.06,0.07,0.08,0.09,0.1,0.2,0.3,0.4,0.5,0.6,0.7,0.8,0.9,1,2,3,4,5,6,7,8,9,10,20], "labelExpr": "datum.value == 10 ? '10' : datum.value == 1 ? '1' : datum.value == 0.1 ? '0.1' : ''", "tickSize": {"condition": {"test": "datum.value == 10 || datum.value == 1 || datum.value == 0.1", "value": -7}, "value": -4}, "labelPadding": 13, "title": "σ flash-indep", "titleX": -30, "titleY": 89, "titleAngle": 270, "titleAlign": "center", "titleBaseline": "alphabetic"}}}},
     {"data": {"name": "dPts"}, "transform": [{"filter": "isValid(datum.lo)"}], "mark": {"type": "rule", "color": "black", "strokeWidth": 1},
      "encoding": {"x": {"field": "I", "type": "quantitative"}, "y": {"field": "lo", "type": "quantitative"}, "y2": {"field": "hi"}}},
     {"data": {"name": "dPts"}, "mark": {"type": "point", "filled": true, "size": 60, "color": "black", "opacity": 1},
      "encoding": {"x": {"field": "I", "type": "quantitative"}, "y": {"field": "s", "type": "quantitative"}}},
     {"data": {"values": [{}]}, "mark": {"type": "rule", "color": "black", "strokeWidth": 1}, "encoding": {"x": {"datum": 2.47e-5}, "x2": {"datum": 4.1e-5}, "y": {"datum": 0.0127}, "y2": {"datum": 0.01585}}},
     {"data": {"values": [{}]}, "mark": {"type": "rule", "color": "black", "strokeWidth": 1}, "encoding": {"x": {"datum": 2.98e-5}, "x2": {"datum": 4.95e-5}, "y": {"datum": 0.0127}, "y2": {"datum": 0.01585}}},
     {"data": {"values": [{}]}, "mark": {"type": "rule", "color": "black", "strokeWidth": 1}, "encoding": {"x": {"datum": 2.47e-5}, "x2": {"datum": 4.1e-5}, "y": {"datum": 0.3236}, "y2": {"datum": 0.402}}},
     {"data": {"values": [{}]}, "mark": {"type": "rule", "color": "black", "strokeWidth": 1}, "encoding": {"x": {"datum": 2.98e-5}, "x2": {"datum": 4.95e-5}, "y": {"datum": 0.3236}, "y2": {"datum": 0.402}}},
     {"data": {"values": [{}]}, "mark": {"type": "text", "text": "B", "fontSize": 13, "align": "left", "baseline": "alphabetic"}, "encoding": {"x": {"datum": 0.00132}, "y": {"datum": 0.00187}}},
     {"data": {"values": [{}]}, "mark": {"type": "text", "text": "D", "fontSize": 28, "align": "left", "baseline": "alphabetic"}, "encoding": {"x": {"datum": 1.25e-7}, "y": {"datum": 39.8}}}
    ]},
    {"data": {"name": "dPts"}, "mark": {"type": "point", "opacity": 0},
     "encoding": {
      "x": {"field": "I", "type": "quantitative", "axis": {"orient": "bottom", "offset": 10, "values": [0.001, 0.1, 10, 1000], "labelExpr": "'' + round(log(datum.value)/LN10)", "domain": false, "ticks": false, "tickSize": 0, "labelFontSize": 13, "labelOffset": 9.5, "labelPadding": 11, "title": null}},
      "y": {"field": "s", "type": "quantitative", "axis": null}}}
   ]}
]
}
